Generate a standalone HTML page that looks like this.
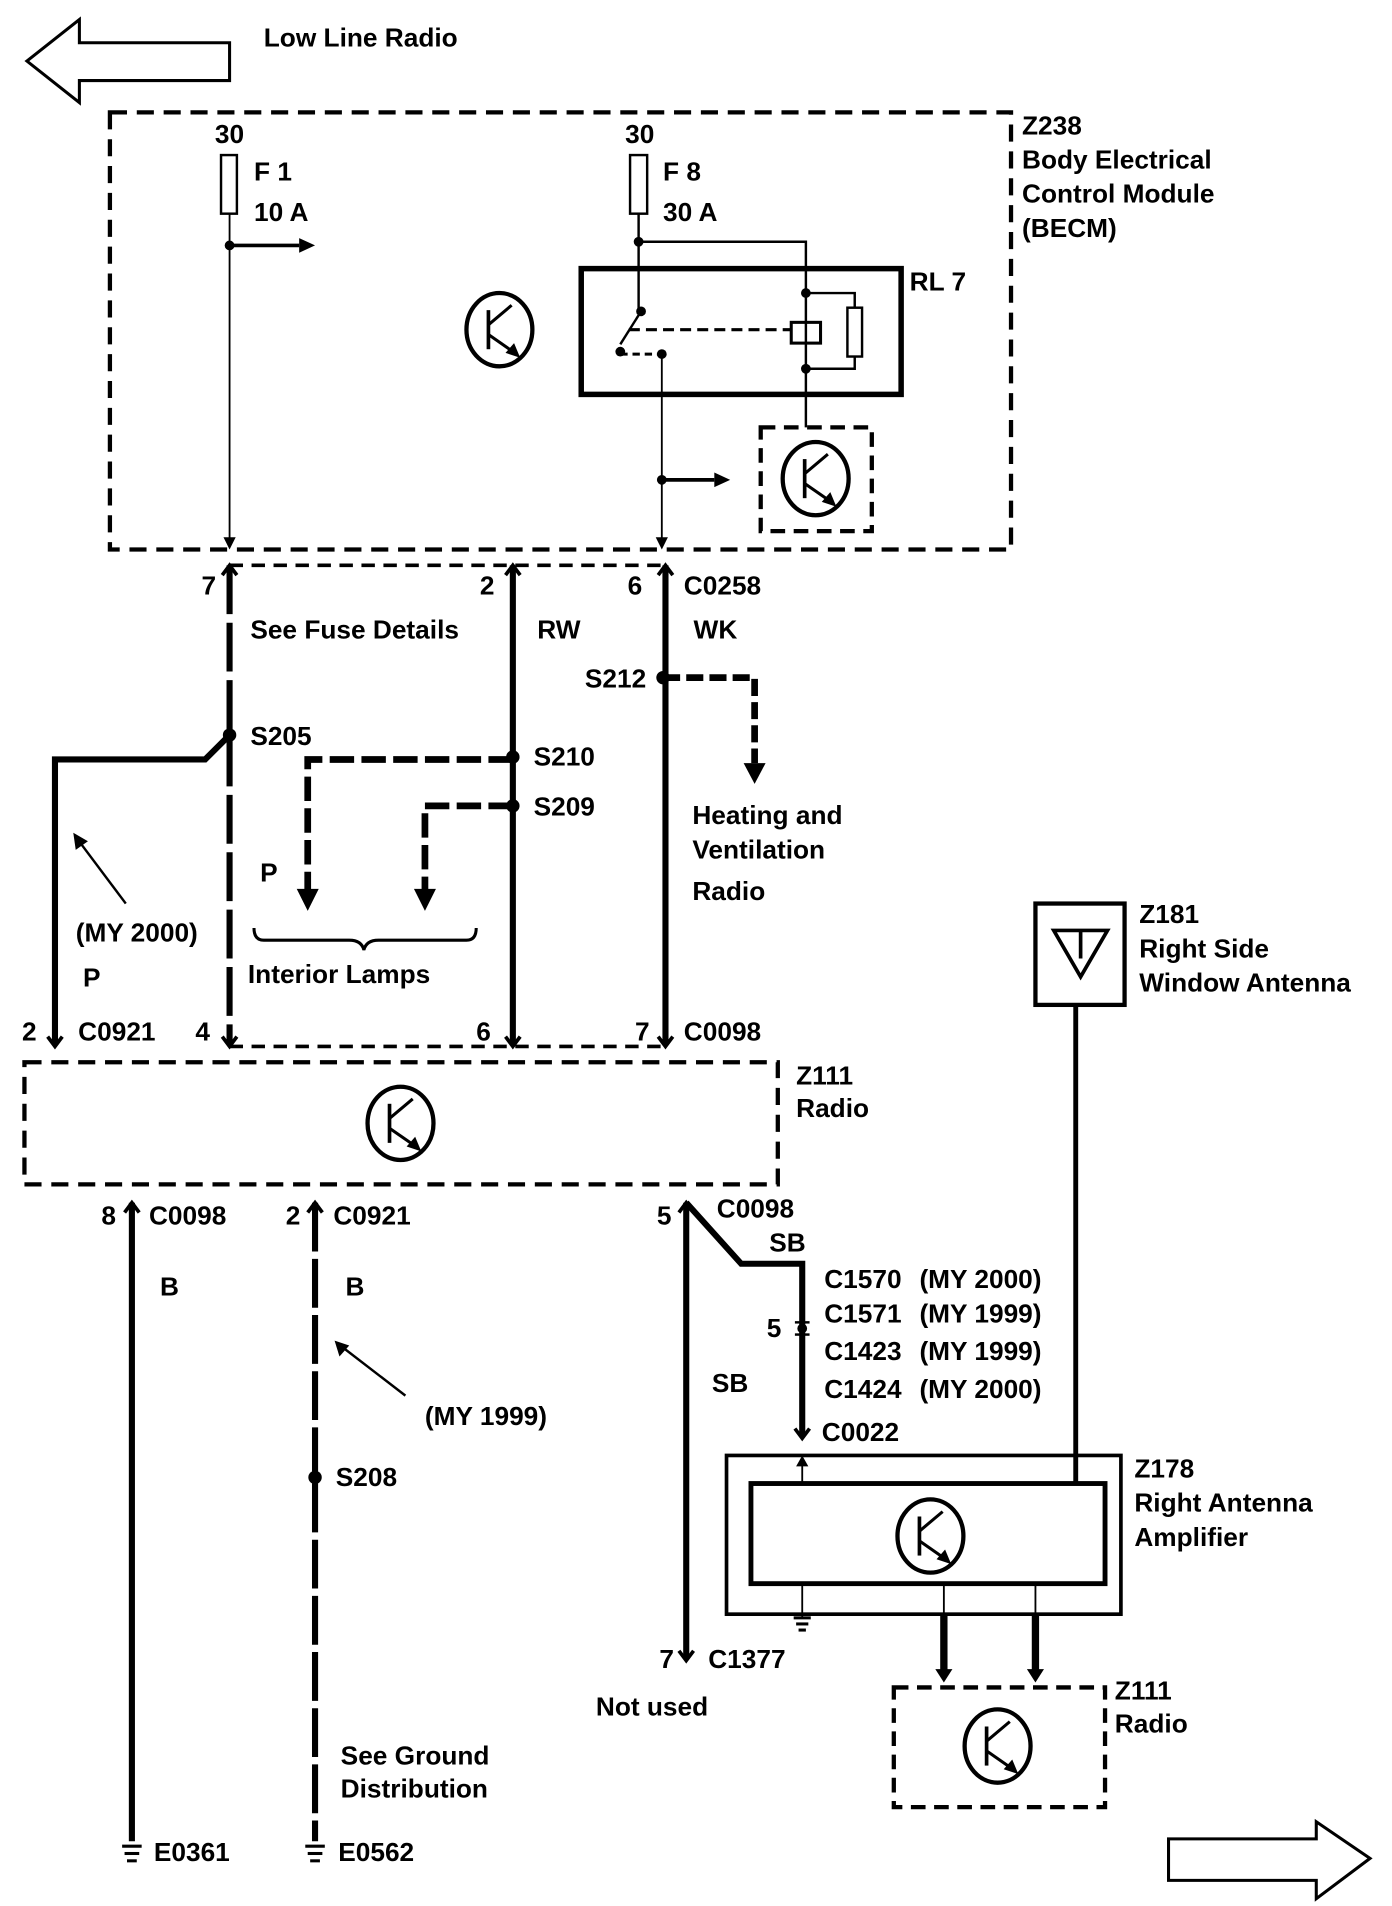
<!DOCTYPE html>
<html><head><meta charset="utf-8"><style>
html,body{margin:0;padding:0;background:#fff}
svg{display:block}
text{font-family:"Liberation Sans",sans-serif;font-weight:bold;font-size:21.5px;fill:#000}
</style></head><body>
<svg width="1392" height="1906" viewBox="0 0 1140 1561" xmlns="http://www.w3.org/2000/svg">
<defs>
<g id="tr">
<ellipse cx="0" cy="0" rx="27" ry="30" fill="none" stroke="#000" stroke-width="3.5"/>
<line x1="-9" y1="-16" x2="-9" y2="16" stroke="#000" stroke-width="3"/>
<line x1="-9" y1="-4" x2="10" y2="-20" stroke="#000" stroke-width="2.5"/>
<line x1="-9" y1="4" x2="14" y2="20" stroke="#000" stroke-width="2.5"/>
<polygon points="17,23 5,19 12,11" fill="#000"/>
</g>
<g id="fk"><polyline points="-6,-8 0,0 6,-8" fill="none" stroke="#000" stroke-width="3"/></g>
<g id="fku"><polyline points="-6,8 0,0 6,8" fill="none" stroke="#000" stroke-width="3"/></g>
</defs>
<g fill="none" stroke="#000">
<polygon points="22,50 65,16 65,35 188,35 188,66 65,66 65,84" stroke-width="2.5"/>
<polygon points="1122,1522 1078,1492 1078,1506 957,1506 957,1540 1078,1540 1078,1555" stroke-width="2.5"/>
<rect x="90" y="92" width="738" height="358" stroke-width="3.5" stroke-dasharray="14,8"/>
<rect x="181" y="127" width="13" height="48" stroke-width="2"/>
<rect x="516" y="127" width="14" height="48" stroke-width="2"/>
<line x1="188" y1="175" x2="188" y2="447" stroke-width="1.5"/>
<line x1="188" y1="201" x2="245" y2="201" stroke-width="3"/>
<line x1="523" y1="175" x2="523" y2="255" stroke-width="2"/>
<polyline points="523,198 660,198 660,350" stroke-width="2"/>
<rect x="476" y="220" width="262" height="103" stroke-width="4.5"/>
<rect x="648" y="264" width="24" height="17" stroke-width="2.5"/>
<rect x="694" y="252" width="12" height="40" stroke-width="2"/>
<polyline points="660,240 700,240 700,252" stroke-width="2"/>
<polyline points="700,292 700,302 660,302" stroke-width="2"/>
<line x1="525" y1="255" x2="508" y2="282" stroke-width="2"/>
<line x1="515" y1="270" x2="648" y2="270" stroke-width="2.5" stroke-dasharray="9,5"/>
<line x1="508" y1="290" x2="540" y2="290" stroke-width="2.5" stroke-dasharray="6,4"/>
<line x1="542" y1="290" x2="542" y2="447" stroke-width="1.5"/>
<line x1="542" y1="393" x2="585" y2="393" stroke-width="3"/>
<rect x="623" y="350" width="91" height="85" stroke-width="3.5" stroke-dasharray="12,7"/>
<line x1="188" y1="463" x2="548" y2="463" stroke-width="3" stroke-dasharray="11,7"/>
<line x1="188" y1="463" x2="188" y2="855" stroke-width="5" stroke-dasharray="40,7"/>
<line x1="420" y1="463" x2="420" y2="855" stroke-width="5"/>
<line x1="545" y1="463" x2="545" y2="855" stroke-width="5"/>
<polyline points="543,555 618,555 618,625" stroke-width="5.5" stroke-dasharray="14,5"/>
<polyline points="188,602 168,622 45,622 45,855" stroke-width="5"/>
<polyline points="420,622 252,622 252,730" stroke-width="5.5" stroke-dasharray="20,6"/>
<polyline points="420,660 348,660 348,730" stroke-width="5.5" stroke-dasharray="20,6"/>
<path d="M208,760 q0,10 8,10 h70 q10,0 12,8 q2,-8 12,-8 h72 q8,0 8,-10" stroke-width="2.5"/>
<line x1="103" y1="740" x2="64" y2="688" stroke-width="2"/>
<line x1="188" y1="857" x2="545" y2="857" stroke-width="3" stroke-dasharray="11,7"/>
<rect x="20" y="870" width="617" height="100" stroke-width="3.5" stroke-dasharray="14,8"/>
<line x1="108" y1="985" x2="108" y2="1508" stroke-width="5"/>
<line x1="258" y1="985" x2="258" y2="1508" stroke-width="5" stroke-dasharray="40,6"/>
<line x1="332" y1="1143" x2="280" y2="1103" stroke-width="2"/>
<line x1="562" y1="985" x2="562" y2="1358" stroke-width="5"/>
<polyline points="562,985 607,1035 657,1035 657,1176" stroke-width="5"/>
<rect x="595" y="1192" width="323" height="130" stroke-width="3"/>
<rect x="615" y="1215" width="290" height="82" stroke-width="4"/>
<line x1="657" y1="1215" x2="657" y2="1196" stroke-width="1.5"/>
<line x1="657" y1="1297" x2="657" y2="1325" stroke-width="1.5"/>
<line x1="881" y1="823" x2="881" y2="1215" stroke-width="4"/>
<rect x="848" y="740" width="73" height="83" stroke-width="3.5"/>
<polygon points="863,762 907,762 885,800" stroke-width="3"/>
<line x1="885" y1="762" x2="885" y2="785" stroke-width="3"/>
<line x1="773" y1="1297" x2="773" y2="1322" stroke-width="1.5"/>
<line x1="848" y1="1297" x2="848" y2="1322" stroke-width="1.5"/>
<line x1="773" y1="1322" x2="773" y2="1368" stroke-width="6"/>
<line x1="848" y1="1322" x2="848" y2="1368" stroke-width="6"/>
<rect x="732" y="1382" width="173" height="98" stroke-width="3.5" stroke-dasharray="12,7"/>
</g>
<g fill="#000">
<polygon points="258,201 245,195 245,207"/>
<polygon points="598,393 585,387 585,399"/>
<polygon points="618,642 609,625 627,625"/>
<polygon points="252,746 243,728 261,728"/>
<polygon points="348,746 339,728 357,728"/>
<polygon points="60,682 62,696 72,689"/>
<polygon points="274,1098 278,1111 286,1102"/>
<polygon points="773,1378 766,1367 780,1367"/>
<polygon points="848,1378 841,1367 855,1367"/>
<polygon points="657,1192 652,1201 662,1201"/>
<polygon points="188,450 183,440 193,440"/>
<polygon points="542,450 537,440 547,440"/>
<circle cx="188" cy="201" r="4"/><circle cx="523" cy="198" r="4"/><circle cx="660" cy="240" r="4"/><circle cx="660" cy="302" r="4"/>
<circle cx="525" cy="255" r="4"/><circle cx="508" cy="288" r="4"/><circle cx="542" cy="290" r="4"/><circle cx="542" cy="393" r="4"/>
<circle cx="543" cy="555" r="5.5"/><circle cx="188" cy="602" r="5.5"/><circle cx="420" cy="620" r="5.5"/><circle cx="420" cy="660" r="5.5"/>
<circle cx="258" cy="1210" r="5.5"/>
<circle cx="657" cy="1088" r="4"/>
</g>
<g fill="none" stroke="#000" stroke-width="2"><line x1="651" y1="1083" x2="663" y2="1083"/><line x1="651" y1="1093" x2="663" y2="1093"/></g>
<g stroke="#000" stroke-width="2.5">
<line x1="100" y1="1512" x2="116" y2="1512"/><line x1="102" y1="1518" x2="114" y2="1518"/><line x1="104" y1="1524" x2="112" y2="1524"/>
<line x1="250" y1="1512" x2="266" y2="1512"/><line x1="252" y1="1518" x2="264" y2="1518"/><line x1="254" y1="1524" x2="262" y2="1524"/>
<line x1="650" y1="1325" x2="664" y2="1325"/><line x1="652" y1="1330" x2="662" y2="1330"/><line x1="654" y1="1335" x2="660" y2="1335"/>
</g>
<use href="#fku" x="188" y="463"/><use href="#fku" x="420" y="463"/><use href="#fku" x="545" y="463"/>
<use href="#fk" x="45" y="857"/><use href="#fk" x="188" y="857"/><use href="#fk" x="420" y="857"/><use href="#fk" x="545" y="857"/>
<use href="#fku" x="108" y="985"/><use href="#fku" x="258" y="985"/><use href="#fku" x="562" y="985"/>
<use href="#fk" x="657" y="1178"/><use href="#fk" x="562" y="1360"/>
<use href="#tr" x="409" y="270"/><use href="#tr" x="668" y="392"/><use href="#tr" x="328" y="920"/>
<use href="#tr" x="762" y="1258"/><use href="#tr" x="817" y="1430"/>
<text x="216" y="38">Low Line Radio</text>
<text x="837" y="110">Z238</text><text x="837" y="138">Body Electrical</text><text x="837" y="166">Control Module</text><text x="837" y="194">(BECM)</text>
<text x="176" y="117">30</text><text x="208" y="148">F 1</text><text x="208" y="181">10 A</text>
<text x="512" y="117">30</text><text x="543" y="148">F 8</text><text x="543" y="181">30 A</text>
<text x="745" y="238">RL 7</text>
<text x="165" y="487">7</text><text x="393" y="487">2</text><text x="514" y="487">6</text><text x="560" y="487">C0258</text>
<text x="205" y="523">See Fuse Details</text><text x="440" y="523">RW</text><text x="568" y="523">WK</text>
<text x="479" y="563">S212</text><text x="205" y="610">S205</text><text x="437" y="627">S210</text><text x="437" y="668">S209</text>
<text x="567" y="675">Heating and</text><text x="567" y="703">Ventilation</text><text x="567" y="737">Radio</text>
<text x="213" y="722">P</text><text x="203" y="805">Interior Lamps</text>
<text x="62" y="771">(MY 2000)</text><text x="68" y="808">P</text>
<text x="18" y="852">2</text><text x="64" y="852">C0921</text><text x="160" y="852">4</text><text x="390" y="852">6</text><text x="520" y="852">7</text><text x="560" y="852">C0098</text>
<text x="652" y="888">Z111</text><text x="652" y="915">Radio</text>
<text x="83" y="1003">8</text><text x="122" y="1003">C0098</text><text x="234" y="1003">2</text><text x="273" y="1003">C0921</text>
<text x="538" y="1003">5</text><text x="587" y="997">C0098</text><text x="630" y="1025">SB</text>
<text x="131" y="1061">B</text><text x="283" y="1061">B</text>
<text x="675" y="1055">C1570</text><text x="753" y="1055">(MY 2000)</text>
<text x="675" y="1083">C1571</text><text x="753" y="1083">(MY 1999)</text>
<text x="675" y="1114">C1423</text><text x="753" y="1114">(MY 1999)</text>
<text x="675" y="1145">C1424</text><text x="753" y="1145">(MY 2000)</text>
<text x="628" y="1095">5</text><text x="583" y="1140">SB</text>
<text x="348" y="1167">(MY 1999)</text><text x="673" y="1180">C0022</text>
<text x="275" y="1217">S208</text>
<text x="933" y="756">Z181</text><text x="933" y="784">Right Side</text><text x="933" y="812">Window Antenna</text>
<text x="929" y="1210">Z178</text><text x="929" y="1238">Right Antenna</text><text x="929" y="1266">Amplifier</text>
<text x="540" y="1366">7</text><text x="580" y="1366">C1377</text><text x="488" y="1405">Not used</text>
<text x="913" y="1392">Z111</text><text x="913" y="1419">Radio</text>
<text x="279" y="1445">See Ground</text><text x="279" y="1472">Distribution</text>
<text x="126" y="1524">E0361</text><text x="277" y="1524">E0562</text>
</svg>
</body></html>
